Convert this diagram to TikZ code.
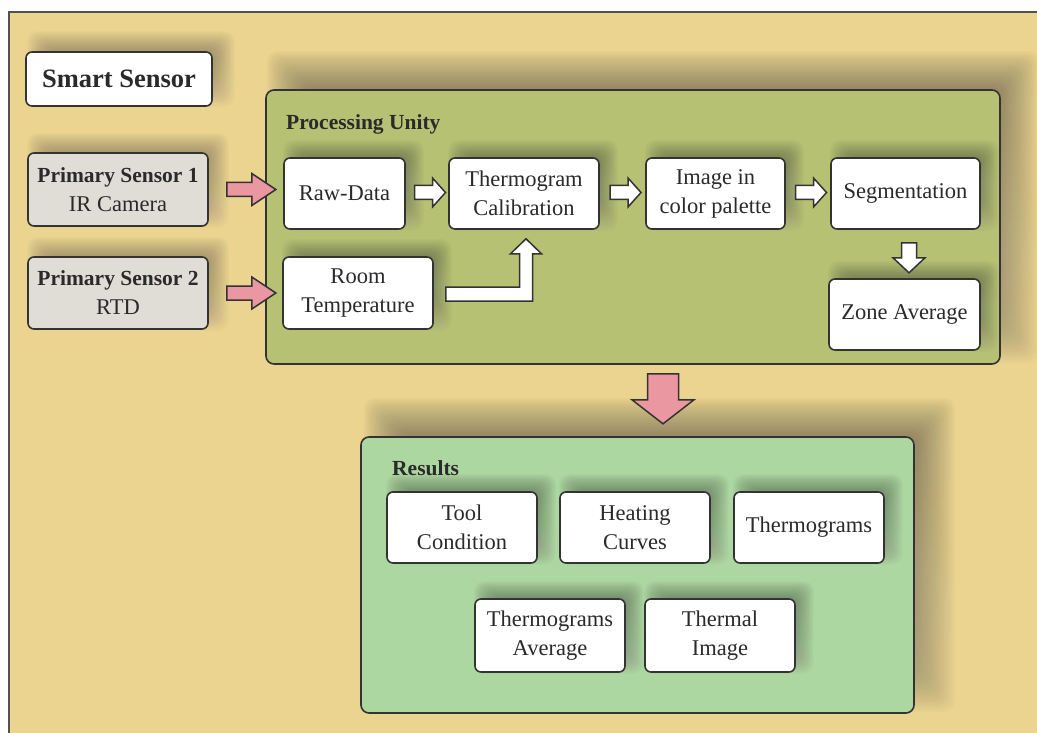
\documentclass[tikz,border=0pt]{standalone}
\usepackage{fontspec}
\setmainfont{Liberation Serif}
\usetikzlibrary{calc}

\definecolor{framebg}{HTML}{EAD490}
\definecolor{procbg}{HTML}{B6C173}
\definecolor{resbg}{HTML}{ADD7A1}
\definecolor{sensbg}{HTML}{E0DCD6}
\definecolor{pinkfill}{HTML}{EA97A2}
\definecolor{edge}{HTML}{333333}
\definecolor{ink}{HTML}{2A2A2A}
\definecolor{shade}{HTML}{3A3010}

\pgfdeclarelayer{frame}
\pgfdeclarelayer{panelshadow}
\pgfdeclarelayer{panels}
\pgfdeclarelayer{boxshadow}
\pgfsetlayers{frame,panelshadow,panels,boxshadow,main}

% soft drop shadow built from stacked translucent rounded rectangles
% #1 node, #2 shift right, #3 shift up, #4 blur radius, #5 layer, #6 opacity per layer
\newcommand\dropshadow[6]{%
  \begin{pgfonlayer}{#5}
  \foreach \s in {-1,-0.875,...,1.01} {
    \fill[shade,opacity=#6,rounded corners=10pt]
      ($(#1.north west)+({#2-\s*#4},{-#3-\s*#4})$) rectangle
      ($(#1.south east)+({#2+\s*#4},{-#3+\s*#4})$);
  }
  \end{pgfonlayer}}

\begin{document}
\begin{tikzpicture}[x=1pt,y=-1pt,
  every node/.style={text=ink},
  txt/.style={font=\fontsize{22.5}{29}\selectfont},
  boldtxt/.style={font=\bfseries\fontsize{21.5}{29}\selectfont},
  stepbox/.style={draw=edge,line width=1.6pt,rounded corners=6pt,fill=white,
    align=center,txt,inner sep=2pt},
  sensorbox/.style={stepbox,fill=sensbg},
  panel/.style={draw=edge,line width=1.6pt,rounded corners=8pt},
  wharrow/.style={draw=edge,line width=1.5pt,fill=white,line join=miter},
  pkarrow/.style={draw=edge,line width=1.5pt,fill=pinkfill,line join=miter},
]
\useasboundingbox (0,0) rectangle (1037,733);

% outer frame
\begin{pgfonlayer}{frame}
\fill[white] (0,0) rectangle (1037,733);
\draw[line width=1.5pt,draw=edge!85,fill=framebg] (9,12) rectangle (1060,760);
\end{pgfonlayer}

% title and primary sensors
\node[stepbox,font=\bfseries\fontsize{26.5}{30}\selectfont,minimum width=186pt,minimum height=54pt] (smart) at (119,79) {Smart Sensor};
\node[sensorbox,minimum width=180pt,minimum height=73pt] (ps1) at (118,189.5) {\textbf{\fontsize{21.5}{29}\selectfont Primary Sensor 1}\\IR Camera};
\node[sensorbox,minimum width=180pt,minimum height=72pt] (ps2) at (118,293) {\textbf{\fontsize{21.5}{29}\selectfont Primary Sensor 2}\\RTD};

% panels
\begin{pgfonlayer}{panels}
\node[panel,fill=procbg,minimum width=734pt,minimum height=274pt] (proc) at (633,227) {};
\node[panel,fill=resbg,minimum width=553pt,minimum height=276pt] (results) at (637.5,575) {};
\end{pgfonlayer}
\node[boldtxt,anchor=west,inner sep=0pt] (proclabel) at (286,124) {Processing Unity};
\node[boldtxt,anchor=west,inner sep=0pt] (reslabel) at (392,468) {Results};

% processing steps
\node[stepbox,minimum width=121pt,minimum height=71pt] (raw) at (344.5,193.5) {Raw-Data};
\node[stepbox,minimum width=150pt,minimum height=71pt] (thermo) at (524,193.5) {Thermogram\\Calibration};
\node[stepbox,minimum width=150pt,minimum height=72pt] (room) at (358,293) {Room\\Temperature};
\node[stepbox,minimum width=139pt,minimum height=71pt] (image) at (715.5,193.5) {Image in\\color palette};
\node[stepbox,minimum width=149pt,minimum height=71pt] (seg) at (905.5,193.5) {Segmentation};
\node[stepbox,minimum width=151pt,minimum height=71pt] (zone) at (904.5,314.5) {Zone Average};

% results
\node[stepbox,minimum width=150pt,minimum height=71pt] (tool) at (462,527.5) {Tool\\Condition};
\node[stepbox,minimum width=150pt,minimum height=71pt] (heat) at (635,527.5) {Heating\\Curves};
\node[stepbox,minimum width=150pt,minimum height=71pt] (thgrams) at (809,527.5) {Thermograms};
\node[stepbox,minimum width=150pt,minimum height=73pt] (avg) at (550,635.5) {Thermograms\\Average};
\node[stepbox,minimum width=150pt,minimum height=73pt] (thimg) at (720,635.5) {Thermal\\Image};

% shadows
\dropshadow{proc}{20}{20}{18}{panelshadow}{0.014}
\dropshadow{results}{22}{20}{18}{panelshadow}{0.014}
\dropshadow{smart}{12}{10}{10}{panelshadow}{0.013}
\dropshadow{ps1}{10}{9}{10}{panelshadow}{0.013}
\dropshadow{ps2}{10}{9}{10}{panelshadow}{0.013}
\foreach \b in {raw,thermo,room,image,seg,zone,tool,heat,thgrams,avg,thimg}
  {\dropshadow{\b}{9}{8}{9}{boxshadow}{0.017}}

% sensor inputs
\draw[pkarrow,shift={($(ps1.east)+(18,0)$)}] (0,-7) -- (25,-7) -- (25,-16) -- (49,0) -- (25,16) -- (25,7) -- (0,7) -- cycle;
\draw[pkarrow,shift={($(ps2.east)+(18,0)$)}] (0,-7) -- (25,-7) -- (25,-16) -- (49,0) -- (25,16) -- (25,7) -- (0,7) -- cycle;

% processing chain
\draw[wharrow,shift={($(raw.east)!0.5!(thermo.west)+(3,-1)$)}] (-15.5,-7) -- (2.5,-7) -- (2.5,-14.5) -- (15.5,0) -- (2.5,14.5) -- (2.5,7) -- (-15.5,7) -- cycle;
\draw[wharrow,shift={($(thermo.east)!0.5!(image.west)+(3,-1)$)}] (-15.5,-7) -- (2.5,-7) -- (2.5,-14.5) -- (15.5,0) -- (2.5,14.5) -- (2.5,7) -- (-15.5,7) -- cycle;
\draw[wharrow,shift={($(image.east)!0.5!(seg.west)+(3,-1)$)}] (-15.5,-7) -- (2.5,-7) -- (2.5,-14.5) -- (15.5,0) -- (2.5,14.5) -- (2.5,7) -- (-15.5,7) -- cycle;
\draw[wharrow,shift={($(seg.south)+(3.5,0)$)}] (-7.5,13) -- (7.5,13) -- (7.5,28) -- (16,28) -- (0,43) -- (-16,28) -- (-7.5,28) -- cycle;

% room temperature feeds the calibration
\coordinate (lA) at ($(room.east)+(12,1)$);
\coordinate (lB) at ($(thermo.south)+(2,9)$);
\coordinate (lC) at (lA -| lB);
\draw[wharrow] ($(lA)+(0,-7)$) -- ($(lC)+(-6.5,-7)$) -- ($(lB)+(-6.5,15)$) -- ($(lB)+(-15.5,15)$) -- (lB)
  -- ($(lB)+(15.5,15)$) -- ($(lB)+(6.5,15)$) -- ($(lC)+(6.5,7)$) -- ($(lA)+(0,7)$) -- cycle;

% processing to results
\draw[pkarrow,shift={($(proc.south)+(30,0)$)}] (-15.5,9) -- (15.5,9) -- (15.5,35) -- (31,35) -- (0,59) -- (-31,35) -- (-15.5,35) -- cycle;
\end{tikzpicture}
\end{document}
